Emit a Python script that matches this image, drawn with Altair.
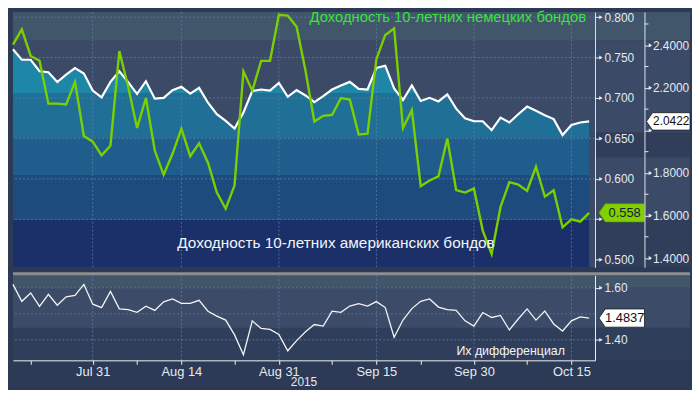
import altair as alt
import pandas as pd

# ---- data (business-day index 0..65 = 20 Jul 2015 .. 19 Oct 2015) ----
us_yield = [2.381, 2.332, 2.332, 2.278, 2.273, 2.227, 2.262, 2.293, 2.267, 2.187,
            2.155, 2.228, 2.278, 2.227, 2.172, 2.231, 2.149, 2.153, 2.189, 2.205,
            2.173, 2.200, 2.130, 2.076, 2.045, 2.009, 2.084, 2.185, 2.192, 2.187,
            2.223, 2.158, 2.189, 2.164, 2.133, 2.161, 2.192, 2.211, 2.228, 2.195,
            2.192, 2.293, 2.304, 2.197, 2.143, 2.211, 2.138, 2.153, 2.136, 2.169,
            2.102, 2.057, 2.043, 2.043, 2.001, 2.060, 2.037, 2.076, 2.112, 2.092,
            2.071, 2.053, 1.978, 2.025, 2.037, 2.0422]
de_yield = [0.766, 0.785, 0.752, 0.746, 0.693, 0.693, 0.692, 0.720, 0.653, 0.646,
            0.629, 0.641, 0.758, 0.714, 0.663, 0.700, 0.635, 0.605, 0.631, 0.662,
            0.628, 0.644, 0.620, 0.583, 0.563, 0.592, 0.733, 0.709, 0.746, 0.746,
            0.803, 0.802, 0.788, 0.734, 0.671, 0.678, 0.679, 0.700, 0.698, 0.655,
            0.656, 0.748, 0.778, 0.786, 0.663, 0.685, 0.591, 0.598, 0.603, 0.650,
            0.586, 0.583, 0.588, 0.536, 0.507, 0.565, 0.596, 0.593, 0.585, 0.615,
            0.578, 0.586, 0.540, 0.550, 0.547, 0.558]
spread = [1.613, 1.548, 1.580, 1.529, 1.575, 1.533, 1.565, 1.571, 1.613, 1.537,
          1.524, 1.586, 1.519, 1.516, 1.506, 1.529, 1.513, 1.546, 1.557, 1.540,
          1.540, 1.552, 1.510, 1.491, 1.476, 1.419, 1.343, 1.473, 1.444, 1.440,
          1.421, 1.358, 1.397, 1.431, 1.459, 1.453, 1.510, 1.506, 1.530, 1.539,
          1.530, 1.547, 1.524, 1.410, 1.476, 1.520, 1.548, 1.557, 1.526, 1.516,
          1.513, 1.473, 1.453, 1.505, 1.486, 1.494, 1.438, 1.480, 1.519, 1.476,
          1.511, 1.461, 1.434, 1.473, 1.488, 1.4837]

x_tick_idx = [2, 9, 14, 19, 25, 30, 36, 41, 46, 52, 58, 63]
x_major_idx = [9, 19, 30, 41, 52, 63]
x_major_lab = ["Jul 31", "Aug 14", "Aug 31", "Sep 15", "Sep 30", "Oct 15"]
de_ticks = [0.50, 0.55, 0.60, 0.65, 0.70, 0.75, 0.80]
de_grid = [0.55, 0.60, 0.65, 0.70, 0.75, 0.80]
us_ticks = [1.4, 1.6, 1.8, 2.0, 2.2, 2.4]
us_minor = [1.5, 1.7, 1.9, 2.1, 2.3, 2.5]
sp_ticks = [1.40, 1.60]
sp_grid = [1.40, 1.50, 1.60]

title_de = "Доходность 10-летних немецких бондов"
title_us = "Доходность 10-летних американских бондов"
title_sp = "Их дифференциал"
year_lab = "2015"

# ---- layout / style ----
W, H_TOP, H_BOT = 588, 258, 86
RIGHT = 96  # room for the two right-hand axes
FONT = "Liberation Sans"
BG = "#2c3a55"
SLATE = "#3b4a66"
DARK = "#303e5a"
GRAYBAND = "#41566a"
GRID = "#5b7fa3"
LBL = "#e4e9f0"
GREEN = "#7ccf00"

x_dom = [0, 65.66]
us_dom = [1.3567, 2.5567]
de_dom = [0.4906, 0.8065]
sp_dom = [1.3213, 1.6483]

df = pd.DataFrame({"i": list(range(len(us_yield))), "us": us_yield, "de": de_yield, "sp": spread})
last = df.tail(1)
one = pd.DataFrame({"k": [0]})

xs = alt.Scale(domain=x_dom, nice=False, zero=False)
uss = alt.Scale(domain=us_dom, nice=False, zero=False)
des = alt.Scale(domain=de_dom, nice=False, zero=False)
sps = alt.Scale(domain=sp_dom, nice=False, zero=False)

# banded fill under the US line (band edges in US-yield units)
band_edges = [2.175, 1.966, 1.791, 1.579]
band_cols = ["#1e86a6", "#1f6f96", "#1f5e8c", "#1e4b7e", "#1b2f69"]


def ypx(v):
    return H_TOP * (us_dom[1] - v) / (us_dom[1] - us_dom[0])


ytop = ypx(max(us_yield))


def off(b):
    return (ypx(b) - ytop) / (H_TOP - ytop)


stops = [alt.GradientStop(color=band_cols[0], offset=0)]
for k, b in enumerate(band_edges):
    stops.append(alt.GradientStop(color=band_cols[k], offset=off(b)))
    stops.append(alt.GradientStop(color=band_cols[k + 1], offset=off(b)))
stops.append(alt.GradientStop(color=band_cols[-1], offset=1))
grad = alt.Gradient(gradient="linear", stops=stops, x1=0, x2=0, y1=0, y2=1)


def rect(x0, x1, y0, y1, color):
    return alt.Chart(one).mark_rect(color=color).encode(
        x=alt.value(x0), x2=alt.value(x1), y=alt.value(y0), y2=alt.value(y1))


def axis_common(**kw):
    base = dict(title=None, grid=False, domainColor="#dfe3ea", tickColor="#e6e9ef",
                labelColor=LBL, labelFont=FONT, labelFontSize=12, zindex=1)
    base.update(kw)
    return alt.Axis(**base)


# ---------------- top panel ----------------
bg_gray = rect(0, W + RIGHT, 0, 28.7, GRAYBAND)
bg_r1 = rect(W, W + RIGHT, 28.7, 122, SLATE)
bg_r2 = rect(W, W + RIGHT, 122, 147, DARK)
bg_r3 = rect(W, W + RIGHT, 147, 210, SLATE)
bg_r4 = rect(W, W + RIGHT, 210, H_TOP, DARK)

area = alt.Chart(df).mark_area(color=grad, opacity=1).encode(
    x=alt.X("i:Q", scale=xs, axis=None),
    y=alt.Y("us:Q", scale=uss, axis=None),
    y2=alt.Y2(datum=us_dom[0]))

hgrid = alt.Chart(pd.DataFrame({"v": de_grid})).mark_rule(
    color=GRID, strokeDash=[2, 2], strokeWidth=1, opacity=0.8).encode(
    y=alt.Y("v:Q", scale=des, axis=None))
vgrid_top = alt.Chart(pd.DataFrame({"v": x_major_idx})).mark_rule(
    color=GRID, strokeDash=[2, 2], strokeWidth=1, opacity=0.8).encode(
    x=alt.X("v:Q", scale=xs, axis=None))

us_axis = axis_common(orient="right", offset=50, values=us_ticks, tickSize=6, labelPadding=2,
                      labelExpr="datum.value == 2 ? '' : format(datum.value, '.4f')")
de_axis = axis_common(orient="right", offset=0, values=de_ticks, tickSize=6, labelPadding=3,
                      labelExpr="datum.value == 0.55 ? '' : format(datum.value, '.3f')")

us_line = alt.Chart(df).mark_line(color="white", strokeWidth=2.2).encode(
    x=alt.X("i:Q", scale=xs, axis=None),
    y=alt.Y("us:Q", scale=uss, axis=us_axis))
de_line = alt.Chart(df).mark_line(color=GREEN, strokeWidth=2.4).encode(
    x=alt.X("i:Q", scale=xs, axis=None),
    y=alt.Y("de:Q", scale=des, axis=de_axis))

t_de = alt.Chart(one).mark_text(text=title_de, align="right", baseline="middle",
                                font=FONT, fontSize=15, color="#3be33b").encode(
    x=alt.value(W - 9), y=alt.value(5))
t_us = alt.Chart(one).mark_text(text=title_us, align="left", baseline="middle",
                                font=FONT, fontSize=15.5, color="#f2f5f8").encode(
    x=alt.value(166), y=alt.value(233))

de_tri = alt.Chart(pd.DataFrame({"v": de_ticks})).mark_point(
    shape="triangle-right", size=16, filled=True, color="#e6e9ef", opacity=1).encode(
    x=alt.value(W + 6), y=alt.Y("v:Q", scale=des, axis=None))
us_tri = alt.Chart(pd.DataFrame({"v": us_ticks})).mark_point(
    shape="triangle-right", size=16, filled=True, color="#e6e9ef", opacity=1).encode(
    x=alt.value(W + 56), y=alt.Y("v:Q", scale=uss, axis=None))
us_min = alt.Chart(pd.DataFrame({"v": us_minor})).mark_rule(color="#e6e9ef").encode(
    x=alt.value(W + 50), x2=alt.value(W + 54), y=alt.Y("v:Q", scale=uss, axis=None))

TAG = "M -1 0 L -0.72 -0.4 L 1 -0.4 L 1 0.4 L -0.72 0.4 Z"
us_tag = alt.Chart(last).mark_point(shape=TAG, size=44 * 44, filled=True, fill="white",
                                    stroke="#1a1a1a", strokeWidth=0.8, opacity=1).encode(
    x=alt.value(W + 74), y=alt.Y("us:Q", scale=uss, axis=None))
us_tag_t = alt.Chart(last).mark_text(font=FONT, fontSize=12, color="#111111",
                                     align="center", baseline="middle").encode(
    x=alt.value(W + 77), y=alt.Y("us:Q", scale=uss, axis=None),
    text=alt.Text("us:Q", format=".4f"))
de_tag = alt.Chart(last).mark_point(shape=TAG, size=46 * 46, filled=True, fill="#82d000",
                                    stroke="#5a9a00", strokeWidth=0.6, opacity=1).encode(
    x=alt.value(W + 27), y=alt.Y("de:Q", scale=des, axis=None))
de_tag_t = alt.Chart(last).mark_text(font=FONT, fontSize=13, color="#14213d",
                                     align="center", baseline="middle").encode(
    x=alt.value(W + 30), y=alt.Y("de:Q", scale=des, axis=None),
    text=alt.Text("de:Q", format=".3f"))

top = alt.layer(
    bg_gray, bg_r1, bg_r2, bg_r3, bg_r4, area, hgrid, vgrid_top, us_line, de_line,
    t_de, t_us, de_tri, us_tri, us_min, us_tag, us_tag_t, de_tag, de_tag_t
).resolve_scale(y="independent").properties(
    width=W, height=H_TOP, view=alt.ViewBackground(fill=SLATE, strokeWidth=0))

# ---------------- bottom panel ----------------
lab_expr = ""
for v, t in zip(x_major_idx, x_major_lab):
    lab_expr += "datum.value == {} ? '{}' : ".format(v, t)
lab_expr += "''"

x_axis = axis_common(values=x_tick_idx, labelExpr=lab_expr, domainColor="#f0f0f0",
                     tickColor="#f0f0f0", tickSize=4, labelPadding=1, labelFontSize=13)
sp_axis = axis_common(orient="right", values=sp_ticks, format=".2f", domainColor="#f0f0f0",
                      tickSize=6, labelPadding=3)

b_gray = rect(0, W + RIGHT, 0, 12, GRAYBAND)
b_dark = rect(0, W + RIGHT, 53, H_BOT, "#2f3e5b")
b_mid = rect(W, W + RIGHT, 12, 53, "#3c4b68")
sep = alt.Chart(one).mark_rule(color="#8e8e8e", strokeWidth=3).encode(
    x=alt.value(0), x2=alt.value(W + RIGHT), y=alt.value(-1.5))
b_hgrid = alt.Chart(pd.DataFrame({"v": sp_grid})).mark_rule(
    color=GRID, strokeDash=[2, 2], strokeWidth=1, opacity=0.8).encode(
    y=alt.Y("v:Q", scale=sps, axis=None))
b_vgrid = alt.Chart(pd.DataFrame({"v": x_major_idx})).mark_rule(
    color=GRID, strokeDash=[2, 2], strokeWidth=1, opacity=0.8).encode(
    x=alt.X("v:Q", scale=xs, axis=None))
sp_line = alt.Chart(df).mark_line(color="#f4f4f4", strokeWidth=1.3).encode(
    x=alt.X("i:Q", scale=xs, axis=x_axis),
    y=alt.Y("sp:Q", scale=sps, axis=sp_axis))
sp_tri = alt.Chart(pd.DataFrame({"v": sp_ticks})).mark_point(
    shape="triangle-right", size=16, filled=True, color="#e6e9ef", opacity=1).encode(
    x=alt.value(W + 6), y=alt.Y("v:Q", scale=sps, axis=None))
t_sp = alt.Chart(one).mark_text(text=title_sp, align="left", baseline="middle",
                                font=FONT, fontSize=12.5, color="#f2f5f8").encode(
    x=alt.value(448), y=alt.value(77))
t_year = alt.Chart(one).mark_text(text=year_lab, align="center", baseline="top",
                                  font=FONT, fontSize=12, color=LBL).encode(
    x=alt.value(W / 2), y=alt.value(H_BOT + 17))
sp_tag = alt.Chart(last).mark_point(shape=TAG, size=46 * 46, filled=True, fill="white",
                                    stroke="#1a1a1a", strokeWidth=0.8, opacity=1).encode(
    x=alt.value(W + 27), y=alt.Y("sp:Q", scale=sps, axis=None))
sp_tag_t = alt.Chart(last).mark_text(font=FONT, fontSize=13, color="#111111",
                                     align="center", baseline="middle").encode(
    x=alt.value(W + 30), y=alt.Y("sp:Q", scale=sps, axis=None),
    text=alt.Text("sp:Q", format=".4f"))

bottom = alt.layer(
    b_gray, b_dark, b_mid, sep, b_hgrid, b_vgrid, sp_line, sp_tri, t_sp, t_year,
    sp_tag, sp_tag_t
).resolve_scale(x="independent", y="independent").properties(
    width=W, height=H_BOT, view=alt.ViewBackground(fill="#3c4b68", strokeWidth=0))

chart = alt.vconcat(top, bottom, spacing=4).properties(
    background=BG, padding=0
).configure_view(strokeWidth=0)

chart.save("out.html", embed_options={"renderer": "svg", "actions": False})
